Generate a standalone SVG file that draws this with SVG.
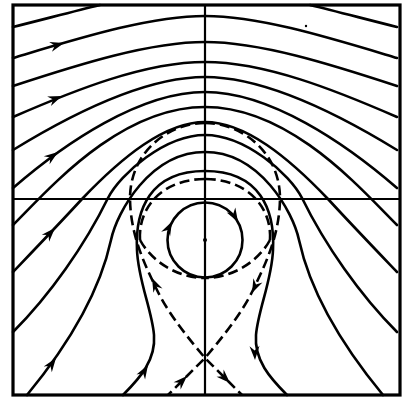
<svg xmlns="http://www.w3.org/2000/svg" xmlns:xlink="http://www.w3.org/1999/xlink" width="405" height="401" viewBox="0 0 405 401">
<style>
.s{fill:none;stroke:#000;stroke-width:2.6;stroke-linecap:round;stroke-linejoin:round}
.d{fill:none;stroke:#000;stroke-width:2.6;stroke-dasharray:10 5}
.ax{fill:none;stroke:#000;stroke-width:2.2}
.frame{fill:none;stroke:#000;stroke-width:3.2}
.ah{fill:#000}
</style>
<defs>
<path id="ah" d="M0,0 L-14,-5 L-9.5,0 L-14,5 Z"/>
<g id="half">
<path class="s" d="M13,27 C45,19 75,11 100,5"/>
<path class="s" d="M13,58 C80,38 150,16 205,16"/>
<path class="s" d="M13,86 C80,64 150,42 205,42"/>
<path class="s" d="M13,117 C75,90 145,62 205,62"/>
<path class="s" d="M13,150 C70,115 145,77 205,77"/>
<path class="s" d="M13,188 C65,143 140,92 205,92"/>
<path class="s" d="M13,225 C50,188 120,107 205,107"/>
<path class="s" d="M13,272 C35,249 60,223 82,199 C122,157 165,122 205,122"/>
<path class="s" d="M13,332 C50,295 85,245 108,198 C120,174 165,135 205,135"/>
<path class="s" d="M27,395 C60,355 98,300 111,240 C117,212 150,152 205,152"/>
<path class="s" d="M123,395 C140,378 156,360 154,335 C152,310 138,280 137,250 C135,210 150,171 205,171"/>
<path class="d" d="M205,123 C170,123 131,150 130,197 C130,235 145,265 157,290 C169,315 190,340 205,358 L168,395"/>
<path class="d" d="M140,240 C138,205 165,179 205,179"/>
<path class="d" d="M140,240 C152,262 178,278 205,278"/>
</g>
</defs>
<rect fill="#fff" width="405" height="401"/>
<g id="frame">
<rect class="frame" x="13" y="5" width="387" height="390"/>
<line class="ax" x1="205" y1="5" x2="205" y2="395"/>
<line class="ax" x1="13" y1="199" x2="400" y2="199"/>
</g>
<g id="streamlines">
<use xlink:href="#half"/>
<use xlink:href="#half" transform="matrix(-1 0 0 1 410 0)"/>
</g>
<g id="core">
<circle class="s" cx="205" cy="240" r="37.5"/>
<circle cx="205" cy="240" r="2" fill="#000"/>
<circle cx="306" cy="26" r="1.2" fill="#000"/>
</g>
<g id="arrows" class="ah">
<use xlink:href="#ah" transform="translate(64,43) rotate(-16)"/>
<use xlink:href="#ah" transform="translate(62,96) rotate(-22)"/>
<use xlink:href="#ah" transform="translate(58,152) rotate(-36)"/>
<use xlink:href="#ah" transform="translate(55,228) rotate(-47)"/>
<use xlink:href="#ah" transform="translate(56,358) rotate(-54)"/>
<use xlink:href="#ah" transform="translate(148,365) rotate(-59)"/>
<use xlink:href="#ah" transform="translate(187,376) rotate(-45)"/>
<use xlink:href="#ah" transform="translate(152,278) rotate(-115)"/>
<use xlink:href="#ah" transform="translate(172,221.5) rotate(-63)"/>
<use xlink:href="#ah" transform="translate(238,222) rotate(60)"/>
<use xlink:href="#ah" transform="translate(252,293) rotate(115)"/>
<use xlink:href="#ah" transform="translate(255,360) rotate(88)"/>
<use xlink:href="#ah" transform="translate(230,383) rotate(45)"/>
</g>
</svg>
